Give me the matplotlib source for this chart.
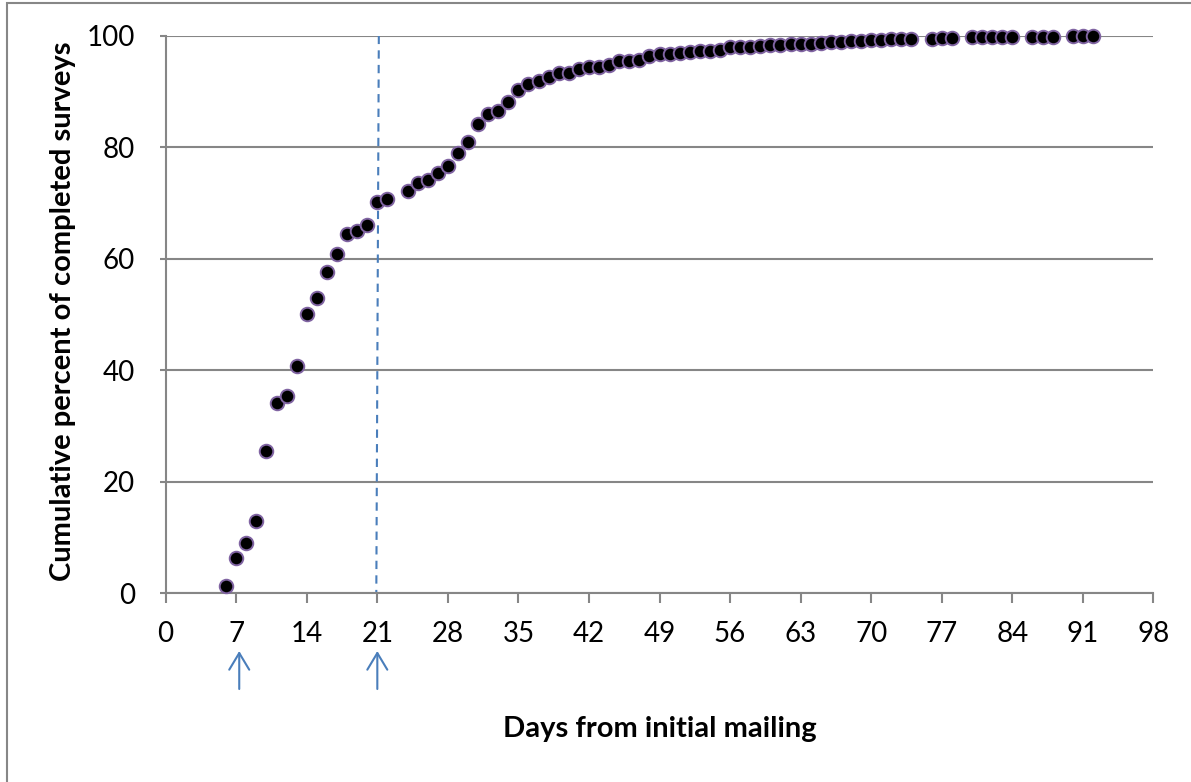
import matplotlib
matplotlib.use("Agg")
import matplotlib.pyplot as plt
from matplotlib.patches import Rectangle
from matplotlib.transforms import blended_transform_factory

days = [6, 7, 8, 9, 10, 11, 12, 13, 14, 15, 16, 17, 18, 19, 20, 21, 22,
        24, 25, 26, 27, 28, 29, 30, 31, 32, 33, 34, 35, 36, 37, 38, 39, 40,
        41, 42, 43, 44, 45, 46, 47, 48, 49, 50, 51, 52, 53, 54, 55, 56, 57,
        58, 59, 60, 61, 62, 63, 64, 65, 66, 67, 68, 69, 70, 71, 72, 73, 74,
        76, 77, 78, 80, 81, 82, 83, 84, 86, 87, 88, 90, 91, 92]
cum_pct = [1.3, 6.4, 9.1, 13.0, 25.6, 34.2, 35.4, 40.8, 50.1, 53.0, 57.7, 60.8,
           64.4, 65.0, 66.0, 70.1, 70.8,
           72.1, 73.5, 74.2, 75.4, 76.6, 79.0, 81.0, 84.2, 86.0, 86.5, 88.1,
           90.3, 91.4, 91.8, 92.6, 93.3, 93.4,
           94.1, 94.4, 94.4, 94.8, 95.4, 95.5, 95.7, 96.3, 96.7, 96.8, 96.95,
           97.1, 97.25, 97.3, 97.4, 97.9, 97.9,
           98.0, 98.2, 98.3, 98.3, 98.5, 98.6, 98.6, 98.75, 98.9, 98.9, 99.05,
           99.1, 99.25, 99.25, 99.35, 99.5, 99.5,
           99.5, 99.6, 99.6, 99.7, 99.7, 99.7, 99.75, 99.8, 99.8, 99.85, 99.85,
           99.9, 100.0, 100.0]
x_ticks = list(range(0, 99, 7))
y_ticks = [0, 20, 40, 60, 80, 100]
reminder_days = [7.3, 21.0]
cutoff_day = 21

plt.rcParams['font.family'] = ['Lato', 'DejaVu Sans']

fig = plt.figure(figsize=(11.91, 7.82), dpi=100)
ax = fig.add_axes([0.1391, 0.2413, 0.9684 - 0.1391, 0.9543 - 0.2413])

grey = '#868686'
blue = '#4a7ebb'

ax.set_xlim(0, 98)
ax.set_ylim(0, 100)
ax.set_xticks(x_ticks)
ax.set_yticks(y_ticks)
ax.yaxis.grid(True, color=grey, linewidth=1.5)
ax.set_axisbelow(True)
for s in ['top', 'right']:
    ax.spines[s].set_visible(False)
for s in ['left', 'bottom']:
    ax.spines[s].set_color(grey)
    ax.spines[s].set_linewidth(1.5)
ax.tick_params(axis='x', direction='out', length=7, width=1.5, color=grey,
               labelsize=20, pad=13)
ax.tick_params(axis='y', direction='out', length=4, width=1.5, color=grey,
               labelsize=20, pad=18)

# dashed cutoff line
ax.plot([cutoff_day + 0.15, cutoff_day - 0.1], [100, 0], color=blue,
        linestyle=(0, (4, 3)), linewidth=1.5, zorder=2)

ax.scatter(days, cum_pct, s=95, facecolor='black', edgecolor='#8064a2',
           linewidth=1.4, zorder=3, clip_on=False)

ax.set_ylabel('Cumulative percent of completed surveys', fontsize=21,
              fontweight='bold', va='center', ha='center')
ax.yaxis.set_label_coords(-0.104, 0.505)
ax.set_xlabel('Days from initial mailing', fontsize=21, fontweight='bold',
              va='center', ha='center')
ax.xaxis.set_label_coords(0.5, -0.2434)

trans = blended_transform_factory(ax.transData, fig.transFigure)
for d in reminder_days:
    ax.annotate('', xy=(d, 1 - 651 / 782), xytext=(d, 1 - 689 / 782),
                xycoords=trans, textcoords=trans,
                arrowprops=dict(arrowstyle='->,head_length=0.6,head_width=0.36',
                                mutation_scale=20, color=blue, lw=1.5,
                                shrinkA=0, shrinkB=0),
                annotation_clip=False)

fig.patches.append(Rectangle((7 / 1191, -0.1), 1.2, 1 - 3.3 / 782 + 0.1,
                             transform=fig.transFigure, fill=False,
                             edgecolor='#878787', linewidth=1.5))

fig.savefig('out.png', dpi=100)
